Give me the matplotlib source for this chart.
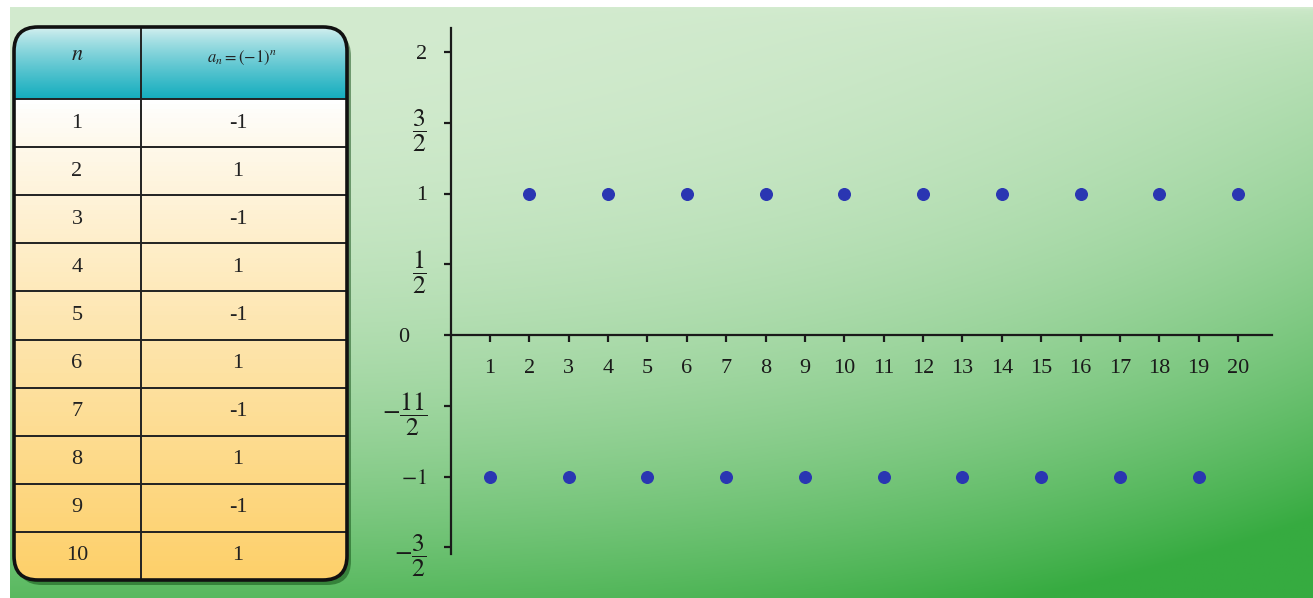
import numpy as np
import matplotlib.pyplot as plt
from matplotlib.patches import FancyBboxPatch
from matplotlib.colors import to_rgb
from matplotlib.transforms import ScaledTranslation

plt.rcParams['font.family'] = ['Liberation Serif', 'DejaVu Serif']
plt.rcParams['mathtext.fontset'] = 'stix'

# --- data ---
n_values = [1, 2, 3, 4, 5, 6, 7, 8, 9, 10, 11, 12, 13, 14, 15, 16, 17, 18, 19, 20]
a_values = [-1, 1, -1, 1, -1, 1, -1, 1, -1, 1, -1, 1, -1, 1, -1, 1, -1, 1, -1, 1]

table_n = ['1', '2', '3', '4', '5', '6', '7', '8', '9', '10']
table_a = ['-1', '1', '-1', '1', '-1', '1', '-1', '1', '-1', '1']
header_labels = ['$n$', r'$a_n = \left(-1\right)^n$']

x_ticks = [1, 2, 3, 4, 5, 6, 7, 8, 9, 10, 11, 12, 13, 14, 15, 16, 17, 18, 19, 20]
y_ticks = [-1.5, -1, -0.5, 0, 0.5, 1, 1.5, 2]
y_tick_labels = [r'$-\dfrac{3}{2}$', r'$-1$', r'$-\dfrac{11}{2}$', '0',
                 r'$\dfrac{1}{2}$', '1', r'$\dfrac{3}{2}$', '2']

# --- figure & background (pixel coordinates) ---
W, H = 1313, 598
fig = plt.figure(figsize=(W / 100, H / 100), dpi=100, facecolor='white')
bg = fig.add_axes([0, 0, 1, 1])

gy, gx = np.mgrid[0:1:300j, 0:1:600j]
t = np.clip(0.78 * gy ** 2.2 + 0.45 * gx ** 3 * gy ** 0.4, 0, 1)
light = np.array(to_rgb('#d3ebcf'))
dark = np.array(to_rgb('#36ab40'))
bg.imshow(light + (dark - light) * t[..., None], extent=(10, W, H, 7),
          aspect='auto', zorder=0)

# --- table ---
tx0, ty0, tx1, ty1 = 14, 27, 347, 580
col_x = 141
head_y = 99
row_h = (ty1 - head_y) / len(table_n)
box_style = 'round,pad=0,rounding_size=24'

shadow = FancyBboxPatch((tx0 + 4, ty0 + 5), tx1 - tx0, ty1 - ty0, boxstyle=box_style,
                        fc='#0f4a12', ec='none', alpha=0.5, zorder=1)
bg.add_patch(shadow)
clip = FancyBboxPatch((tx0, ty0), tx1 - tx0, ty1 - ty0, boxstyle=box_style,
                      fc='none', ec='none')
bg.add_patch(clip)

tv = np.linspace(0, 1, 100)[:, None, None]
head_top, head_bot = np.array(to_rgb('#d9f1f1')), np.array(to_rgb('#14adbe'))
head_img = np.repeat(head_top + (head_bot - head_top) * tv ** 0.8, 2, axis=1)
im1 = bg.imshow(head_img, extent=(tx0, tx1, head_y, ty0), aspect='auto', zorder=2)
im1.set_clip_path(clip)

body_top, body_bot = np.array(to_rgb('#ffffff')), np.array(to_rgb('#fdd06a'))
body_img = np.repeat(body_top + (body_bot - body_top) * tv ** 0.85, 2, axis=1)
im2 = bg.imshow(body_img, extent=(tx0, tx1, ty1, head_y), aspect='auto', zorder=2)
im2.set_clip_path(clip)

row_lines = [head_y + row_h * k for k in range(len(table_n))]
bg.hlines(row_lines, tx0, tx1, color='#222222', lw=1.4, zorder=3)
bg.vlines(col_x, ty0, ty1, color='#222222', lw=1.4, zorder=3)
border = FancyBboxPatch((tx0, ty0), tx1 - tx0, ty1 - ty0, boxstyle=box_style,
                        fc='none', ec='#111111', lw=2.6, zorder=4)
bg.add_patch(border)

bg.text(77, 56, header_labels[0], ha='center', va='center', fontsize=16,
        color='#222222', zorder=5)
bg.text(242, 58, header_labels[1], ha='center', va='center', fontsize=12,
        color='#222222', zorder=5)
for i, (nv, av) in enumerate(zip(table_n, table_a)):
    yc = head_y + row_h * (i + 0.5)
    bg.text(77, yc, nv, ha='center', va='center', fontsize=16, color='#222222', zorder=5)
    bg.text(238, yc, av, ha='center', va='center', fontsize=16, color='#222222', zorder=5)

bg.set_xlim(0, W)
bg.set_ylim(H, 0)
bg.axis('off')

# --- sequence plot ---
x_px0, x_unit = 450.6, 39.37
y_px0, y_unit = 335.0, 141.5
xlim = (-1, 21.5)
ylim = (-1.7, 2.3)
left = (x_px0 + xlim[0] * x_unit) / W
width = (xlim[1] - xlim[0]) * x_unit / W
bottom = (H - (y_px0 - ylim[0] * y_unit)) / H
height = (ylim[1] - ylim[0]) * y_unit / H
ax = fig.add_axes([left, bottom, width, height])
ax.patch.set_alpha(0)
ax.set_xlim(*xlim)
ax.set_ylim(*ylim)

ax.scatter(n_values, a_values, s=70, color='#2a36b2', zorder=5, clip_on=False)

for side in ['top', 'right']:
    ax.spines[side].set_visible(False)
ax.spines['left'].set_position(('data', 0))
ax.spines['bottom'].set_position(('data', 0))
ax.spines['left'].set_bounds(-1.55, 2.17)
ax.spines['bottom'].set_bounds(0, 20.86)
for side in ['left', 'bottom']:
    ax.spines[side].set_linewidth(1.6)
    ax.spines[side].set_color('#1a1a1a')

ax.set_xticks(x_ticks)
ax.set_xticklabels([str(v) for v in x_ticks])
ax.set_yticks(y_ticks)
ax.set_yticklabels(y_tick_labels)
ax.tick_params(axis='x', direction='out', length=5, width=1.6, pad=12,
               labelsize=16, colors='#1a1a1a')
ax.tick_params(axis='y', direction='out', length=5, width=1.6, pad=12,
               labelsize=16, colors='#1a1a1a')

# fractions drawn a bit larger so their digits match the plain labels;
# the "0" label sits further left in the original
for lbl, val, txt in zip(ax.get_yticklabels(), y_ticks, y_tick_labels):
    if 'frac' in txt:
        lbl.set_fontsize(18.5)
    if val == 0:
        lbl.set_transform(lbl.get_transform() + ScaledTranslation(-0.18, 0, fig.dpi_scale_trans))

fig.savefig('out.png', dpi=100)
